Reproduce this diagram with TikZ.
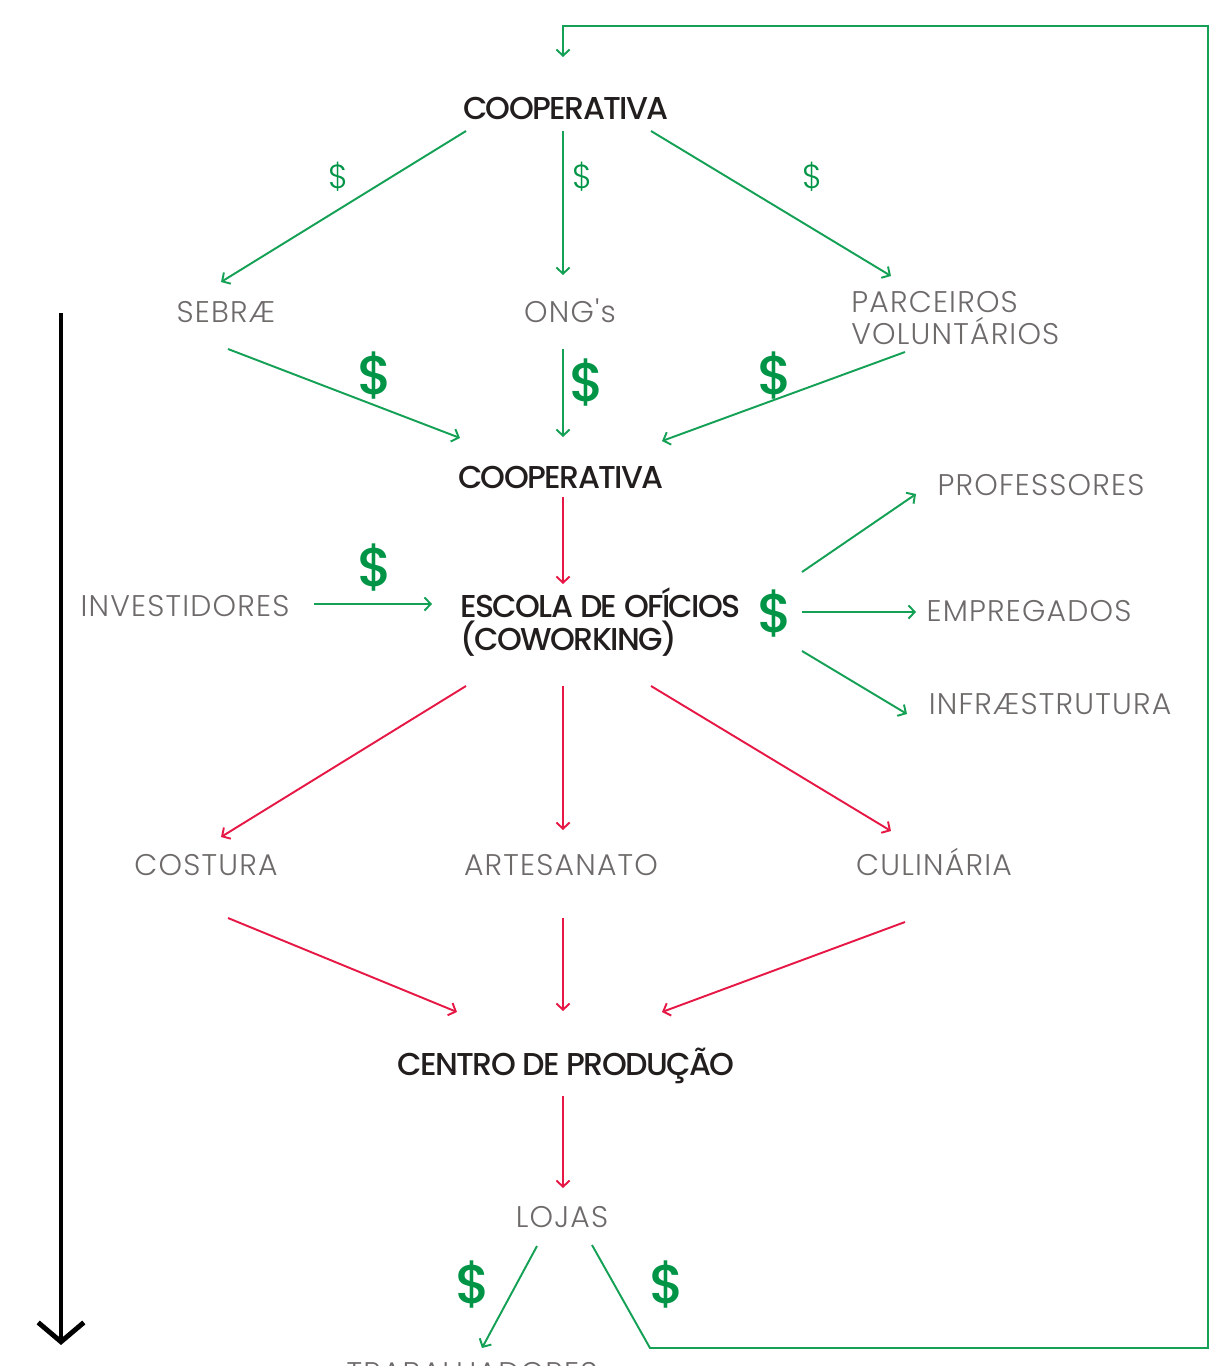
\documentclass[tikz,border=0pt]{standalone}
\usepackage{fontspec}
\setmainfont{Poppins}
\newfontfamily\lightfont{Poppins}[UprightFont={* Light},LetterSpace=4]
\newfontfamily\darkfont{Poppins}[UprightFont={* Medium},LetterSpace=-5]
\newfontfamily\dollarfont{Poppins}[UprightFont={* Medium}]
\usetikzlibrary{arrows.meta,  % arrow tips
                calc}
\definecolor{cgreen}{RGB}{20,160,85}
\definecolor{cdollar}{RGB}{0,148,70}
\definecolor{cred}{RGB}{230,25,70}
\definecolor{cgrey}{RGB}{110,106,106}
\definecolor{cdark}{RGB}{35,30,30}

\begin{document}
\begin{tikzpicture}[x=0.02cm, y=-0.02cm,
    lbl/.style={font=\lightfont\fontsize{17}{18.7}\selectfont, text=cgrey, inner sep=0pt, align=left,
                text height=11.9pt, text depth=0pt},
    dark/.style={font=\darkfont\fontsize{18}{18.7}\selectfont, text=cdark, inner sep=0pt, align=left,
                text height=12.6pt, text depth=0pt},
    twolines/.style={text height={}, text depth={}},
    dsmall/.style={font=\lightfont\fontsize{19}{20}\selectfont, text=cdollar, inner sep=0pt},
    dbig/.style={font=\dollarfont\fontsize{31}{32}\selectfont, text=cdollar, inner sep=0pt},
    garrow/.style={draw=cgreen, line width=1.1pt, -{Straight Barb[length=3.5pt, width=7.5pt]}},
    rarrow/.style={garrow, draw=cred}]
        \useasboundingbox (0,0) rectangle (1212,1366);

        \node[dark] (coop1) at (566,108) {COOPERATIVA};
        \node[lbl] (sebrae) at (226,312) {SEBRÆ};
        \node[lbl] (ong) at (570,312) {ONG's};
        \node[lbl, twolines, anchor=west] (parc) at (851,318) {PARCEIROS\\VOLUNTÁRIOS};
        \node[dark] (coop2) at (561,477) {COOPERATIVA};
        \node[lbl] (invest) at (185,606) {INVESTIDORES};
        \node[dark, twolines, anchor=west] (escola) at (460,622) {ESCOLA DE OFÍCIOS\\(COWORKING)};
        \node[lbl] (prof) at (1041,485) {PROFESSORES};
        \node[lbl] (empreg) at (1029,611) {EMPREGADOS};
        \node[lbl] (infra) at (1050,704) {INFRÆSTRUTURA};
        \node[lbl] (costura) at (206,865) {COSTURA};
        \node[lbl] (artes) at (561,865) {ARTESANATO};
        \node[lbl] (culin) at (934,865) {CULINÁRIA};
        \node[dark] (centro) at (566,1064) {CENTRO DE PRODUÇÃO};
        \node[lbl] (lojas) at (562,1217) {LOJAS};
        \node[lbl] (trab) at (472,1373) {TRABALHADORES};

        \node[dsmall] (s1) at (338,177) {\$};
        \node[dsmall] (s2) at (582,177) {\$};
        \node[dsmall] (s3) at (812,177) {\$};
        \node[dbig] (b1) at (375,376) {\$};
        \node[dbig] (b2) at (587,383) {\$};
        \node[dbig] (b3) at (775,376) {\$};
        \node[dbig] (b4) at (375,568) {\$};
        \node[dbig] (b5) at (775,614) {\$};
        \node[dbig] (b6) at (473,1285) {\$};
        \node[dbig] (b7) at (667,1285) {\$};

        \draw[garrow] ($(coop1)+(-100,23)$) -- ($(sebrae)+(-5,-30)$);
        \draw[garrow] ($(coop1)+(-3,23)$) -- ($(ong)+(-7,-37)$);
        \draw[garrow] ($(coop1)+(85,23)$) -- ($(parc.west)+(40,-42)$);
        \draw[garrow] ($(sebrae)+(2,37)$) -- ($(coop2)+(-101,-39)$);
        \draw[garrow] ($(ong)+(-7,37)$) -- ($(coop2)+(2,-40)$);
        \draw[garrow] ($(parc.west)+(54,34)$) -- ($(coop2)+(101,-36)$);
        \draw[rarrow] ($(coop2)+(2,20)$) -- ($(escola.west)+(103,-38)$);
        \draw[garrow] ($(invest)+(129,-2)$) -- ($(escola.west)+(-28,-18)$);
        \draw[garrow] ($(escola.west)+(342,-50)$) -- ($(prof)+(-125,9)$);
        \draw[garrow] ($(escola.west)+(342,-10)$) -- ($(empreg)+(-113,1)$);
        \draw[garrow] ($(escola.west)+(342,29)$) -- ($(infra)+(-143,10)$);
        \draw[rarrow] ($(escola.west)+(6,64)$) -- ($(costura)+(15,-28)$);
        \draw[rarrow] ($(escola.west)+(103,64)$) -- ($(artes)+(2,-35)$);
        \draw[rarrow] ($(escola.west)+(191,64)$) -- ($(culin)+(-43,-34)$);
        \draw[rarrow] ($(costura)+(22,53)$) -- ($(centro)+(-109,-52)$);
        \draw[rarrow] ($(artes)+(2,53)$) -- ($(centro)+(-3,-53)$);
        \draw[rarrow] ($(culin)+(-29,57)$) -- ($(centro)+(96,-52)$);
        \draw[rarrow] ($(centro)+(-3,32)$) -- ($(lojas)+(1,-29)$);
        \draw[garrow] ($(lojas)+(-25,29)$) -- ($(trab)+(10,-25)$);
        \draw[garrow] ($(lojas)+(30,28)$) -- ++(58,103) -- ++(558,0)
                      |- ($(coop1)+(-3,-82)$) -- ($(coop1)+(-3,-51)$);

        \coordinate (tstart) at (61,313);
        \coordinate (tend) at (61,1345);
        \draw[line width=2.8pt, -{Straight Barb[length=11pt, width=26pt]}] (tstart) -- (tend);

    \end{tikzpicture}
\end{document}
